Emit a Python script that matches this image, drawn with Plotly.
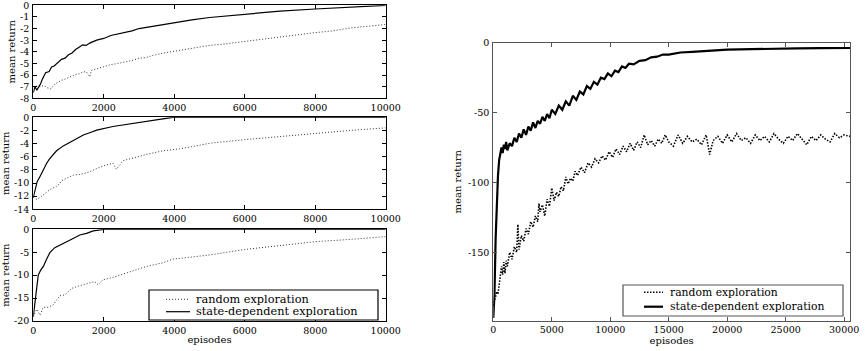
import plotly.graph_objects as go

# ---------------- data ----------------
# Panel A (top-left)
A_SD_EP = [0, 50, 100, 150, 200, 250, 300, 350, 450, 520, 600, 700, 800, 900, 1000, 1100, 1200, 1300,
           1400, 1500, 1600, 1800, 2000, 2200, 2500, 2800, 3000, 3300, 3600, 4000, 4500, 5000, 6000,
           7000, 8000, 9000, 10000]
A_SD = [-7.5, -7.0, -7.3, -7.1, -6.8, -6.4, -6.1, -5.8, -5.7, -5.3, -5.2, -4.9, -4.65, -4.55, -4.25, -4.1,
        -3.8, -3.6, -3.4, -3.45, -3.25, -3.0, -2.85, -2.6, -2.4, -2.2, -2.0, -1.85, -1.65, -1.45, -1.25,
        -1.05, -0.75, -0.5, -0.32, -0.15, 0.0]
A_RND_EP = [0, 100, 200, 300, 400, 500, 600, 700, 800, 900, 1000, 1100, 1200, 1300, 1400, 1500, 1600,
            1650, 1800, 2000, 2200, 2400, 2600, 2800, 3000, 3200, 3400, 3600, 3800, 4000, 4200, 4500,
            4800, 5000, 5500, 6000, 6500, 7000, 7500, 8000, 8500, 9000, 9500, 10000]
A_RND = [-7.0, -6.95, -7.0, -6.9, -7.1, -7.2, -6.8, -6.6, -6.45, -6.35, -6.2, -6.1, -5.95, -5.9, -5.75,
         -5.7, -6.15, -5.6, -5.45, -5.3, -5.1, -5.0, -4.9, -4.75, -4.55, -4.5, -4.3, -4.15, -4.05, -3.95,
         -3.85, -3.7, -3.55, -3.45, -3.3, -3.1, -2.95, -2.75, -2.55, -2.35, -2.2, -1.95, -1.8, -1.65]

# Panel B (middle-left)
B_SD_EP = [0, 50, 110, 190, 280, 380, 450, 550, 660, 850, 1040, 1230, 1420, 1600, 1800, 2260, 2740,
           3210, 3680, 3960, 5000, 6000, 7000, 8000, 9000, 10000]
B_SD = [-12.2, -11.1, -9.8, -9.0, -8.0, -7.0, -6.4, -5.7, -5.1, -4.35, -3.8, -3.2, -2.7, -2.35, -1.95,
        -1.4, -1.0, -0.65, -0.3, 0.0, 0.0, 0.0, 0.0, 0.0, 0.0, 0.0]
B_RND_EP = [0, 100, 190, 280, 470, 660, 750, 800, 940, 1130, 1320, 1600, 1790, 2070, 2260, 2360, 2550,
            2930, 3210, 3680, 4150, 4620, 5000, 6000, 7000, 8000, 9000, 10000]
B_RND = [-12.2, -12.5, -12.2, -11.8, -11.0, -10.5, -10.1, -9.65, -9.3, -8.8, -8.7, -8.3, -7.8, -7.25,
         -7.0, -7.9, -6.6, -6.0, -5.65, -5.1, -4.8, -4.35, -3.95, -3.4, -2.9, -2.4, -2.0, -1.6]

# Panel C (bottom-left)
C_SD_EP = [0, 50, 95, 140, 210, 285, 380, 470, 610, 755, 945, 1130, 1320, 1510, 1700, 1935, 2000,
           4000, 6000, 8000, 10000]
C_SD = [-19.05, -15.4, -12.1, -10.0, -8.9, -8.1, -6.5, -5.1, -4.0, -3.4, -2.7, -2.0, -1.25, -0.9,
        -0.35, -0.07, 0.0, 0.0, 0.0, 0.0, 0.0]
C_RND_EP = [0, 95, 190, 285, 425, 565, 660, 755, 900, 990, 1085, 1230, 1415, 1600, 1740, 1840, 1980,
            2260, 2740, 3210, 3680, 3960, 4430, 5000, 6000, 7000, 8000, 9000, 10000]
C_RND = [-19.05, -17.45, -18.7, -17.0, -17.0, -16.5, -15.4, -14.5, -14.3, -13.6, -12.9, -12.5, -12.1,
         -11.8, -11.4, -12.1, -11.0, -10.5, -9.2, -8.1, -7.3, -6.5, -6.1, -5.6, -4.4, -3.6, -2.7, -2.2,
         -1.6]

# Panel D (right)
D_SD_EP = [0, 100, 200, 300, 400, 500, 600, 700, 800, 900, 1000, 1100, 1200, 1400, 1600, 1800, 2000,
           2200, 2400, 2600, 2800, 3000, 3200, 3400, 3600, 3800, 4000, 4200, 4400, 4600, 4800, 5000,
           5300, 5600, 5900, 6200, 6500, 6800, 7100, 7400, 7700, 8000, 8300, 8600, 8900, 9200, 9500,
           9800, 10100, 10400, 10700, 11000, 11300, 11600, 12000, 12500, 13000, 13500, 14000, 14500,
           15000, 16000, 17000, 18000, 19000, 20000, 22000, 24000, 26000, 28000, 30000, 30500]
D_SD = [-197, -180, -140, -112, -95, -84, -78, -75, -79, -73, -76, -71, -77, -72, -74, -68, -71, -65,
        -68, -62, -66, -60, -63, -57, -61, -56, -58, -53, -56, -51, -54, -48, -51, -45, -48, -42, -45,
        -38, -41, -35, -37, -31, -33, -28, -30, -25, -26, -22, -24, -20, -21, -17, -18, -15, -15.5,
        -13, -12.5, -10.5, -10, -8.5, -8.5, -7, -6.5, -5.8, -5.5, -5, -4.5, -4.2, -4, -3.9, -3.8, -3.8]
D_RND_EP = [0, 100, 200, 300, 400, 500, 600, 700, 800, 900, 1000, 1100, 1200, 1400, 1600, 1800, 2000,
            2100, 2200, 2400, 2600, 2800, 3000, 3200, 3400, 3600, 3800, 3900, 4000, 4200, 4400, 4600,
            4800, 5000, 5200, 5400, 5600, 5800, 6000, 6200, 6400, 6600, 6800, 7000, 7200, 7500, 7800,
            8100, 8400, 8700, 9000, 9300, 9600, 9900, 10200, 10500, 10800, 11100, 11400, 11700, 12000,
            12300, 12600, 12900, 13200, 13500, 13800, 14100, 14400, 14700, 15000, 15400, 15800, 16200,
            16600, 17000, 17400, 17800, 18200, 18500, 18800, 19200, 19600, 20000, 20400, 20800, 21200,
            21600, 22000, 22400, 22800, 23200, 23600, 24000, 24400, 24800, 25200, 25600, 26000, 26400,
            26800, 27200, 27600, 28000, 28400, 28800, 29200, 29600, 30000, 30500]
D_RND = [-188, -185, -182, -178, -180, -172, -168, -160, -166, -157, -165, -156, -160, -150, -155, -146,
         -150, -130, -148, -138, -142, -133, -137, -128, -132, -124, -128, -115, -121, -116, -124, -112,
         -117, -104, -113, -107, -110, -103, -106, -96, -101, -97, -99, -92, -95, -89, -93, -86, -89,
         -83, -86, -81, -84, -78, -82, -76, -80, -74, -78, -72, -77, -71, -75, -66, -73, -70, -74, -69,
         -72, -66, -71, -74, -66, -72, -67, -71, -69, -73, -66, -80, -70, -67, -72, -66, -71, -65, -70,
         -68, -72, -66, -70, -67, -71, -65, -69, -72, -67, -70, -65, -69, -73, -67, -70, -66, -69, -71,
         -65, -68, -66, -67]

X_TICKS_L = [0, 2000, 4000, 6000, 8000, 10000]
X_TICKS_R = [0, 5000, 10000, 15000, 20000, 25000, 30000]
Y_TICKS_A = [0, -1, -2, -3, -4, -5, -6, -7, -8]
Y_TICKS_B = [0, -2, -4, -6, -8, -10, -12, -14]
Y_TICKS_C = [0, -5, -10, -15, -20]
Y_TICKS_D = [0, -50, -100, -150]

NAME_RND = "random exploration"
NAME_SD = "state-dependent exploration"

# ---------------- figure ----------------
FONT = "DejaVu Serif"
W, H = 865, 351
DOT_L = "1px,2px"
DOT_R = "1.5px,1.5px"
fig = go.Figure()


def add_pair(xa, ya, ex_r, r, ex_s, s, lw_r, lw_s, dash, col_r):
    fig.add_trace(go.Scatter(x=ex_r, y=r, mode="lines", name=NAME_RND, xaxis=xa, yaxis=ya,
                             line=dict(color=col_r, width=lw_r, dash=dash), showlegend=False))
    fig.add_trace(go.Scatter(x=ex_s, y=s, mode="lines", name=NAME_SD, xaxis=xa, yaxis=ya,
                             line=dict(color="black", width=lw_s), showlegend=False))


add_pair("x", "y", A_RND_EP, A_RND, A_SD_EP, A_SD, 1, 1.2, DOT_L, "#333333")
add_pair("x2", "y2", B_RND_EP, B_RND, B_SD_EP, B_SD, 1, 1.2, DOT_L, "#333333")
add_pair("x3", "y3", C_RND_EP, C_RND, C_SD_EP, C_SD, 1, 1.2, DOT_L, "#333333")
add_pair("x4", "y4", D_RND_EP, D_RND, D_SD_EP, D_SD, 1.6, 2.2, DOT_R, "black")


def fx(p):
    return p / W


def fy(p):
    return 1 - p / H


tickfont = dict(family=FONT, size=9.5, color="black")
axfont = dict(family=FONT, size=10, color="black")


def xax(dom, anchor, ticks, rng, title=None, col="black"):
    d = dict(domain=dom, anchor=anchor, range=rng, tickvals=ticks, ticktext=[str(t) for t in ticks],
             showgrid=False, zeroline=False, showline=True, linecolor=col, linewidth=1.3,
             mirror="allticks", ticks="inside", ticklen=4, tickcolor=col, tickfont=tickfont,
             ticklabelstandoff=0, automargin=False, ticklabeloverflow="allow")
    if title:
        d["title"] = dict(text=title, font=axfont, standoff=1)
    return d


def yax(dom, anchor, ticks, rng, col="black", standoff=2):
    return dict(domain=dom, anchor=anchor, range=rng, tickvals=ticks, ticktext=[str(t) for t in ticks],
                showgrid=False, zeroline=False, showline=True, linecolor=col, linewidth=1.3,
                mirror="allticks", ticks="inside", ticklen=4, tickcolor=col, tickfont=tickfont,
                ticklabelstandoff=1, automargin=False, ticklabeloverflow="allow",
                title=dict(text="mean return", font=axfont, standoff=standoff))


LX = [fx(33.3), fx(385.7)]
RX = [fx(493.3), fx(850)]

# manual legends (box, samples, labels) in paper coordinates
shapes = []
annotations = []


def legend(box, rows, samp_x, text_x, col, fsize, lw_r, lw_s, dash, col_r):
    x0, y0, x1, y1 = box
    shapes.append(dict(type="rect", xref="paper", yref="paper", x0=fx(x0), x1=fx(x1), y0=fy(y1),
                       y1=fy(y0), line=dict(color=col, width=1.2), fillcolor="white", layer="above"))
    for (name, w, d, c), ry in zip([(NAME_RND, lw_r, dash, col_r), (NAME_SD, lw_s, "solid", "black")], rows):
        shapes.append(dict(type="line", xref="paper", yref="paper", x0=fx(samp_x[0]), x1=fx(samp_x[1]),
                           y0=fy(ry), y1=fy(ry), line=dict(color=c, width=w, dash=d),
                           layer="above"))
        annotations.append(dict(xref="paper", yref="paper", x=fx(text_x), y=fy(ry), xanchor="left",
                                yanchor="middle", showarrow=False, text=name,
                                font=dict(family=FONT, size=fsize, color="black")))


legend((149, 290, 378, 320), (299.3, 311.7), (166, 190), 194, "black", 11.3, 1, 1.2, DOT_L, "#333333")
legend((623, 285, 843, 316), (292.3, 306.7), (644, 663), 668, "#555555", 10.8, 1.6, 2.2, DOT_R, "black")

fig.update_layout(
    width=W, height=H, margin=dict(l=0, r=0, t=0, b=0),
    paper_bgcolor="white", plot_bgcolor="white",
    font=dict(family=FONT, color="black"),
    showlegend=False,
    xaxis=xax(LX, "y", X_TICKS_L, [0, 10000]),
    yaxis=yax([fy(98.3), fy(5.3)], "x", Y_TICKS_A, [-8, 0]),
    xaxis2=xax(LX, "y2", X_TICKS_L, [0, 10000]),
    yaxis2=yax([fy(209.3), fy(117.3)], "x2", Y_TICKS_B, [-14, 0]),
    xaxis3=xax(LX, "y3", X_TICKS_L, [0, 10000], title="episodes"),
    yaxis3=yax([fy(321), fy(229.3)], "x3", Y_TICKS_C, [-20, 0]),
    xaxis4=xax(RX, "y4", X_TICKS_R, [0, 30500], title="episodes", col="#555555"),
    yaxis4=yax([fy(320.7), fy(42.7)], "x4", Y_TICKS_D, [-198.9, 0], col="#555555", standoff=4),
    shapes=shapes,
    annotations=annotations,
)

fig.write_html("out.html", config={"displayModeBar": False},
               post_script="document.body.style.margin='0';document.body.style.padding='0';")
